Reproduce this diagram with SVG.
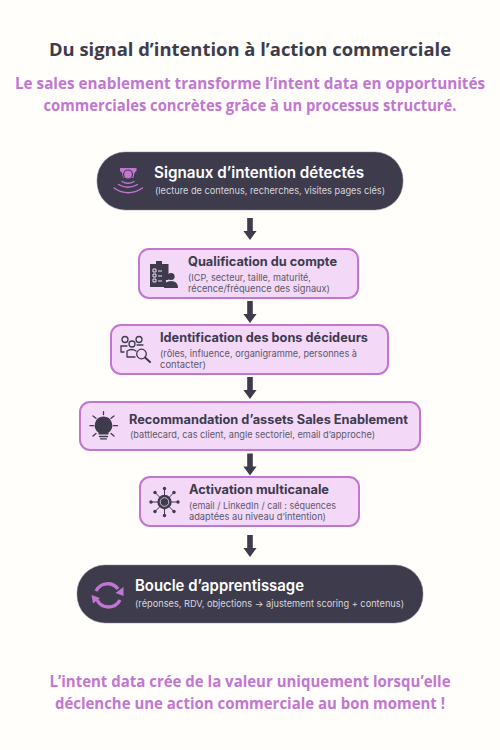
<svg xmlns="http://www.w3.org/2000/svg" width="500" height="750" viewBox="0 0 500 750">
<style>
text{font-family:Inter,"Noto Sans",sans-serif}
.hd{font-family:"Open Sans","Noto Sans",sans-serif;font-weight:700;text-anchor:middle}
.h1{font-size:17.8px;fill:#3d3b4c}
.h2{font-size:15.6px;fill:#c276d2}
.dark{fill:#3d3b4c;stroke:#8a8894;stroke-width:.5}
.light{fill:#f3d8f8;stroke:#c276d2;stroke-width:2}
.tw{fill:#fff;font-weight:600;font-size:15.7px}
.sw{fill:#d9d7df;font-size:9.4px}
.td{fill:#3d3b4c;font-weight:700;font-size:12.6px}
.sd{fill:#5a5868;font-size:9.4px}
.ic{fill:#3d3b4c}
.il{fill:none;stroke:#3d3b4c;stroke-width:1.3;stroke-linecap:round}
.ray{fill:none;stroke:#3d3b4c;stroke-width:1;stroke-linecap:round}
.ip{fill:none;stroke:#c276d2;stroke-width:1.4;stroke-linecap:round}
.ar{fill:#3d3b4c}
</style>
<defs><path id="a" d="M-2.800 0H2.800V13H6.600L0 22L-6.600 13H-2.800Z"/></defs>
<rect width="500" height="750" fill="#fffefb"/>
<g id="header">
<text class="hd h1" x="250" y="55.500" textLength="402" lengthAdjust="spacingAndGlyphs">Du signal d’intention à l’action commerciale</text>
<text class="hd h2" x="250" y="89" textLength="470" lengthAdjust="spacingAndGlyphs">Le sales enablement transforme l’intent data en opportunités</text>
<text class="hd h2" x="250" y="110.500" textLength="413" lengthAdjust="spacingAndGlyphs">commerciales concrètes grâce à un processus structuré.</text>
</g>
<g id="connectors" class="ar">
<use href="#a" x="250" y="218"/>
<use href="#a" x="250" y="301"/>
<use href="#a" x="250" y="377"/>
<use href="#a" x="250" y="453.500"/>
<use href="#a" x="250" y="535"/>
</g>
<g id="node-signaux">
<rect class="dark" x="97" y="152" width="306" height="58" rx="28"/>
<path fill="#c276d2" d="M120 168H136.500V171Q134 172 134 176L133 178H123.500L122.500 176Q122.500 172 120 171Z"/>
<circle cx="128" cy="174.500" r="4.500" fill="#c276d2" stroke="#3d3b4c" stroke-width="1.200"/>
<path class="ip" d="M122 181.500Q128 185 134 181.500M118.500 184.500Q128 190 137.500 184.500M114 188Q128 197.500 142.500 188"/>
<text class="tw" x="154" y="178" textLength="210" lengthAdjust="spacingAndGlyphs">Signaux d’intention détectés</text>
<text class="sw" x="155" y="194" textLength="230" lengthAdjust="spacingAndGlyphs">(lecture de contenus, recherches, visites pages clés)</text>
</g>
<g id="node-qualification">
<rect class="light" x="139" y="249" width="219" height="49" rx="10"/>
<path class="ic" d="M150 264H156V261H162V264H168.500V280H166V287H150Z"/>
<path stroke="#f3d8f8" stroke-width="1" fill="none" d="M153 269h3v3h-3zM153 274h3v3h-3zM153 279h3v3h-3zM158 271h4M158 276h4M158 281h4"/>
<circle class="ic" cx="171" cy="276.500" r="3.600"/>
<path class="ic" d="M164 288Q164 281 171 281Q178 281 178 288Z"/>
<text class="td" x="188" y="266" textLength="149" lengthAdjust="spacingAndGlyphs">Qualification du compte</text>
<text class="sd" x="188" y="281" textLength="123" lengthAdjust="spacingAndGlyphs">(ICP, secteur, taille, maturité,</text>
<text class="sd" x="188" y="292" textLength="142" lengthAdjust="spacingAndGlyphs">récence/fréquence des signaux)</text>
</g>
<g id="node-decideurs">
<rect class="light" x="111" y="325" width="277" height="49" rx="10"/>
<g class="il">
<circle cx="125" cy="339.500" r="3"/><circle cx="139" cy="339.500" r="3"/><circle cx="132" cy="344" r="3"/>
<path d="M121 352V346H127M124 352H121M143 345H137M127 357V351Q132 348 136 351M127 357H135"/>
<circle cx="141.500" cy="354" r="4.800"/>
<path d="M145 357.500L150 362" style="stroke-width:2"/>
</g>
<text class="td" x="160" y="342" textLength="208" lengthAdjust="spacingAndGlyphs">Identification des bons décideurs</text>
<text class="sd" x="160" y="357" textLength="197" lengthAdjust="spacingAndGlyphs">(rôles, influence, organigramme, personnes à</text>
<text class="sd" x="160" y="368" textLength="46" lengthAdjust="spacingAndGlyphs">contacter)</text>
</g>
<g id="node-recommandation">
<rect class="light" x="80" y="402" width="340" height="48" rx="10"/>
<path class="ic" d="M103.500 416.500A8.800 8.800 0 0 1 108.500 432.500V434.500H98.500V432.500A8.800 8.800 0 0 1 103.500 416.500Z"/>
<path class="il" d="M99.500 436.500H107.500M100.500 438.800H106.500M103.500 411.700V414.500M93 416L96 418.300M114 416L111 418.300M90 425.700H93.500M117.500 425.700H113.500M93 436L96 433.500M114 436L111 433.500"/>
<text class="td" x="129" y="424" textLength="279" lengthAdjust="spacingAndGlyphs">Recommandation d’assets Sales Enablement</text>
<text class="sd" x="130" y="438" textLength="245" lengthAdjust="spacingAndGlyphs">(battlecard, cas client, angle sectoriel, email d’approche)</text>
</g>
<g id="node-activation">
<rect class="light" x="140" y="477" width="219" height="49" rx="10"/>
<path class="ray" d="M164.500 489V515M151 502H178M155 492.500L174 511.500M155 511.500L174 492.500"/>
<circle cx="164.500" cy="502" r="7.200" fill="#3d3b4c"/>
<circle cx="164.500" cy="502" r="4.300" fill="none" stroke="#f3d8f8" stroke-width=".8"/>
<g class="ic"><circle cx="164.500" cy="488.500" r="1.700"/><circle cx="164.500" cy="515.500" r="1.700"/><circle cx="151" cy="502" r="1.700"/><circle cx="178" cy="502" r="1.700"/><circle cx="155" cy="492.500" r="1.700"/><circle cx="174" cy="492.500" r="1.700"/><circle cx="155" cy="511.500" r="1.700"/><circle cx="174" cy="511.500" r="1.700"/></g>
<text class="td" x="189" y="494" textLength="140" lengthAdjust="spacingAndGlyphs">Activation multicanale</text>
<text class="sd" x="189" y="509" textLength="147" lengthAdjust="spacingAndGlyphs">(email / LinkedIn / call : séquences</text>
<text class="sd" x="189" y="520" textLength="137" lengthAdjust="spacingAndGlyphs">adaptées au niveau d’intention)</text>
</g>
<g id="node-boucle">
<rect class="dark" x="77" y="565" width="346" height="58" rx="28"/>
<path fill="none" stroke="#c276d2" stroke-width="3.400" d="M96 591A13 13 0 0 1 118 589M120 600A13 13 0 0 1 97 600"/>
<path fill="#c276d2" d="M115.500 593L123.500 587V596ZM100 598L91.500 595L93 603.500Z"/>
<text class="tw" x="135" y="591" textLength="169" lengthAdjust="spacingAndGlyphs">Boucle d’apprentissage</text>
<text class="sw" x="135" y="607" textLength="269" lengthAdjust="spacingAndGlyphs">(réponses, RDV, objections → ajustement scoring + contenus)</text>
</g>
<g id="footer">
<text class="hd h2" x="250" y="687" textLength="401" lengthAdjust="spacingAndGlyphs">L’intent data crée de la valeur uniquement lorsqu’elle</text>
<text class="hd h2" x="250" y="709" textLength="390" lengthAdjust="spacingAndGlyphs">déclenche une action commerciale au bon moment !</text>
</g>
</svg>
